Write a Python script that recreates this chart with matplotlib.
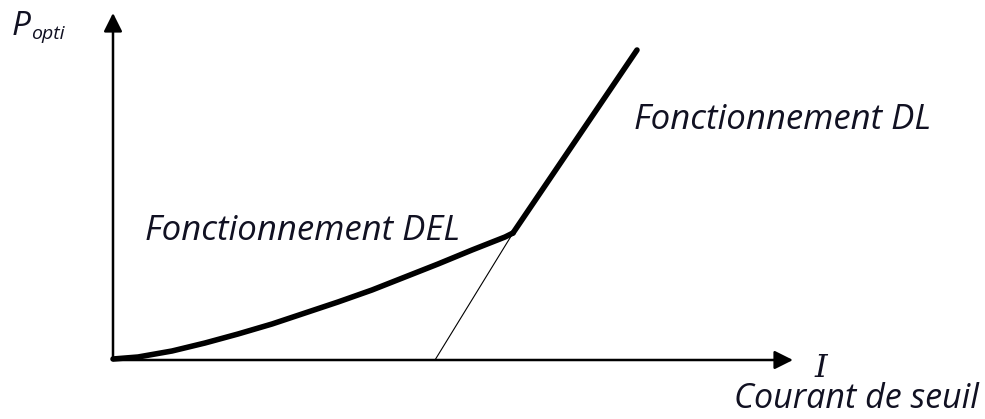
import numpy as np
from matplotlib import pyplot as plt

i_del = [0.0, 0.25, 0.59, 0.92, 1.25, 1.59, 1.92, 2.25, 2.59, 2.92, 3.25, 3.59, 3.92, 4.00]
p_del = [0.01, 0.03, 0.09, 0.17, 0.26, 0.36, 0.47, 0.58, 0.70, 0.83, 0.96, 1.10, 1.23, 1.27]
i_dl = [4.00, 5.24]
p_dl = [1.27, 3.10]
i_seuil = [3.22, 4.00]
p_seuil = [0.0, 1.27]

# bornes des axes fléchés
i_max = 6.8
p_max = 3.47

fig = plt.figure(dpi=100, figsize=(9.85, 4.19))
ax = fig.add_axes([0, 0, 1, 1])
ax.set_xlim(-1.13, 8.72)
ax.set_ylim(-0.59, 3.60)
ax.axis('off')

# axes avec flèches
arrow = dict(arrowstyle='-|>', mutation_scale=28, lw=1.8, color='black',
             shrinkA=0, shrinkB=0)
ax.annotate('', xy=(0, p_max), xytext=(0, 0), arrowprops=arrow)
ax.annotate('', xy=(i_max, 0), xytext=(0, 0), arrowprops=arrow)

# tracé
ax.plot(i_del, p_del, c='black', lw=4.0, solid_capstyle='round', solid_joinstyle='round')
ax.plot(i_dl, p_dl, c='black', lw=4.0, solid_capstyle='round')
ax.plot(i_seuil, p_seuil, c='black', lw=0.8)

# textes
font = dict(family='Open Sans', style='italic', color='#111122')
ax.text(-1.01, 3.25, 'P', fontsize=24, ha='left', va='baseline', **font)
ax.text(-0.82, 3.21, 'opti', fontsize=14, ha='left', va='baseline', **font)
ax.text(0.32, 1.20, 'Fonctionnement DEL', fontsize=25, ha='left', va='baseline', **font)
ax.text(5.21, 2.31, 'Fonctionnement DL', fontsize=25, ha='left', va='baseline', **font)
ax.text(7.01, -0.17, 'I', fontsize=23, ha='left', va='baseline',
        family='DejaVu Serif', style='italic', color='#111122')
ax.text(6.21, -0.48, 'Courant de seuil', fontsize=24.5, ha='left', va='baseline', **font)

plt.savefig('out.png', dpi=100)
